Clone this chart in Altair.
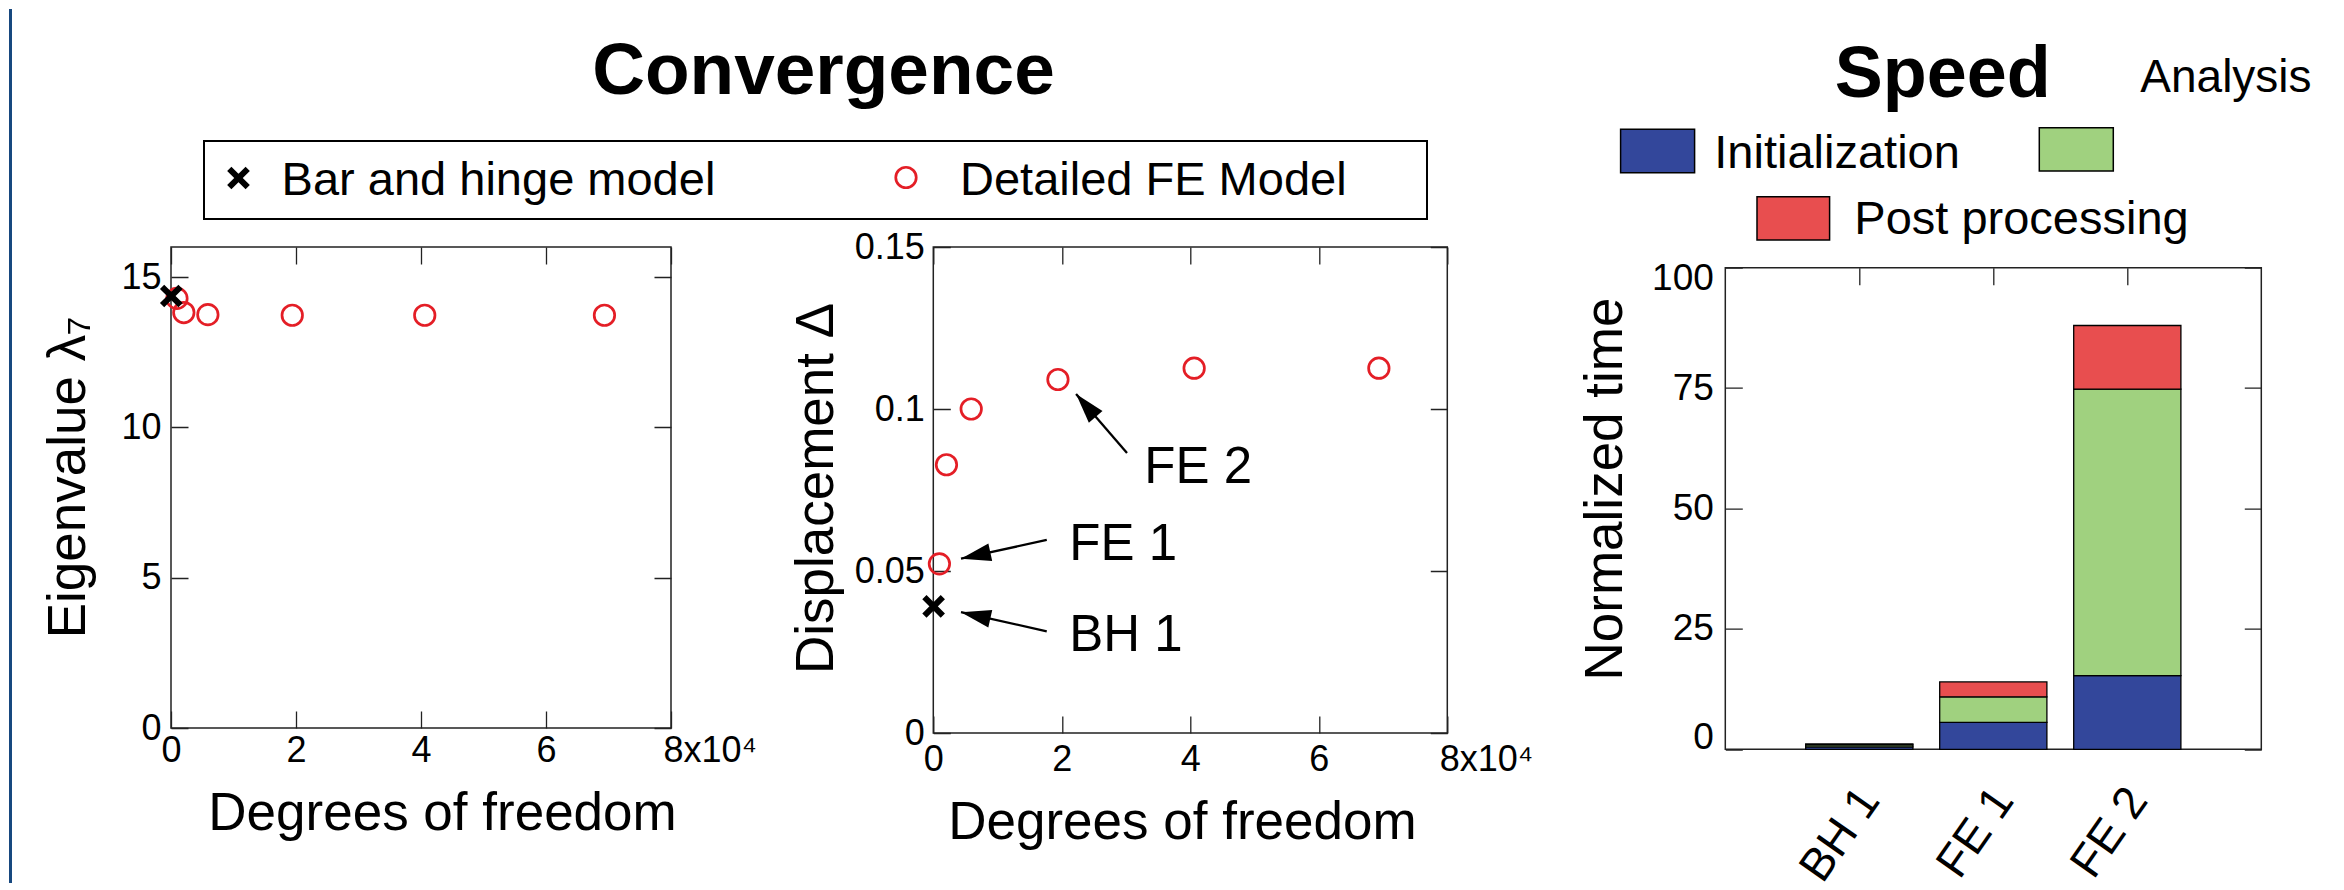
import altair as alt
import pandas as pd

# ---------------- data ----------------
dof_bh = [0.005]                                   # degrees of freedom (x10^4)
dof_fe = [0.095, 0.205, 0.59, 1.94, 4.06, 6.935]
eig_bh = [14.37]
eig_fe = [14.29, 13.82, 13.75, 13.73, 13.73, 13.73]
disp_bh = [0.0391]
disp_fe = [0.0522, 0.0828, 0.1000, 0.1091, 0.1126, 0.1126]
series_names = ["Bar and hinge model", "Detailed FE Model"]

dof_ticks = [0, 2, 4, 6, 8]
eig_ticks = [0, 5, 10, 15]
disp_ticks = [0, 0.05, 0.1, 0.15]

ann_labels = ["FE 2", "FE 1", "BH 1"]
ann_text_x = [3.284, 2.117, 2.117]
ann_text_y = [0.0772, 0.0535, 0.0252]
arrow_tail_x = [3.015, 1.766, 1.766]
arrow_tail_y = [0.0864, 0.0596, 0.0314]
arrow_tip_x = [2.222, 0.431, 0.431]
arrow_tip_y = [0.1046, 0.0538, 0.0373]

cases = ["BH 1", "FE 1", "FE 2"]
case_pos = [1, 2, 3]
components = ["Initialization", "Analysis", "Post processing"]
t_init = [0.5, 5.6, 15.3]
t_analysis = [0.4, 5.3, 59.5]
t_post = [0.2, 3.1, 13.2]
time_ticks = [0, 25, 50, 75, 100]

panel_titles = ["Convergence", "Speed"]

# ---------------- style ----------------
FONT = "Liberation Sans"
RED = "#E41E26"
FRAME = "#222222"
STRIP = "#17487F"
comp_colors = ["#33479B", "#A0D17F", "#E84E4F"]
TICK = 17
W1, H1 = 500, 481
W2, H2 = 514, 486
W3, H3 = 536, 481.6
XPATH = "M-1,-1L1,1M1,-1L-1,1"
HEAD = "M0,0L0.6,2L-0.6,2Z"
CIRCLE_SIZE = 420
X_SIZE = 340
X_STROKE = 6
LABEL_SIZE = 36
TITLE_SIZE = 53

one = pd.DataFrame({"a": [0]})


def txt(s, x, y, size, weight="normal", align="left"):
    return alt.Chart(pd.DataFrame({"t": [s]})).mark_text(
        fontSize=size, fontWeight=weight, align=align, baseline="alphabetic", color="black"
    ).encode(x=alt.value(x), y=alt.value(y), text="t:N")


def box(x0, x1, y0, y1, fill, sw=1.5):
    return alt.Chart(one).mark_rect(fill=fill, stroke="black", strokeWidth=sw).encode(
        x=alt.value(x0), x2=alt.value(x1), y=alt.value(y0), y2=alt.value(y1))


def dof_axis(h, tx, ty, pad):
    return alt.Axis(
        values=dof_ticks,
        labelExpr="datum.value == 8 ? '8x10\u2074' : datum.label",
        labelAlign={"condition": {"test": "datum.value == 8", "value": "left"}, "value": "center"},
        labelOffset={"condition": {"test": "datum.value == 8", "value": -8}, "value": 0},
        labelFontSize=LABEL_SIZE, labelBaseline="alphabetic", labelPadding=pad,
        ticks=False, tickSize=0, domain=False,
        grid=True, gridDash=[TICK, h - 2 * TICK], gridColor=FRAME, gridWidth=1.3, gridOpacity=1,
        title="Degrees of freedom", titleFontSize=TITLE_SIZE, titleFontWeight="normal", titleLimit=2000,
        titleBaseline="alphabetic", titleAlign="center", titleX=tx, titleY=ty)


def val_axis(vals, w, title, tx, ty, pad, fmt=None):
    kw = dict(values=vals, labelFontSize=LABEL_SIZE, labelPadding=pad,
              ticks=False, tickSize=0, domain=False,
              grid=True, gridDash=[TICK, w - 2 * TICK], gridColor=FRAME, gridWidth=1.3, gridOpacity=1,
              title=title, titleFontSize=TITLE_SIZE, titleFontWeight="normal", titleLimit=2000,
              titleBaseline="alphabetic", titleAlign="center", titleAngle=270,
              titleX=tx, titleY=ty)
    if fmt:
        kw["format"] = fmt
    return alt.Axis(**kw)


# ---------------- panel 1: eigenvalue ----------------
xs1 = alt.Scale(domain=[0, 8], nice=False, zero=False)
ys1 = alt.Scale(domain=[0, 16], nice=False, zero=False)
xa1 = dof_axis(H1, 271, 101, 33)
ya1 = val_axis(eig_ticks, W1, "Eigenvalue \u03bb\u2087", -87, 230, 10)

df_fe1 = pd.DataFrame({"dof": dof_fe, "val": eig_fe})
df_bh1 = pd.DataFrame({"dof": dof_bh, "val": eig_bh})

fe1 = alt.Chart(df_fe1).mark_point(shape="circle", filled=False, color=RED, strokeWidth=2.7,
                                    size=CIRCLE_SIZE, opacity=1).encode(
    x=alt.X("dof:Q", scale=xs1, axis=xa1), y=alt.Y("val:Q", scale=ys1, axis=ya1))
bh1 = alt.Chart(df_bh1).mark_point(shape=XPATH, filled=False, color="black", strokeWidth=X_STROKE,
                                    size=X_SIZE, opacity=1).encode(
    x=alt.X("dof:Q", scale=xs1, axis=xa1), y=alt.Y("val:Q", scale=ys1, axis=ya1))

strip = alt.Chart(one).mark_rect(color=STRIP).encode(
    x=alt.value(-162), x2=alt.value(-159), y=alt.value(-238), y2=alt.value(636))

leg_box = box(33, 1256, -106, -28, "white", sw=2)
leg_x = alt.Chart(one).mark_point(shape=XPATH, filled=False, color="black", strokeWidth=X_STROKE,
                                  size=X_SIZE, opacity=1).encode(x=alt.value(67.5), y=alt.value(-69))
leg_o = alt.Chart(one).mark_point(shape="circle", filled=False, color=RED, strokeWidth=2.7,
                                  size=CIRCLE_SIZE, opacity=1).encode(x=alt.value(735), y=alt.value(-69.5))

p1 = alt.layer(
    fe1, bh1, strip,
    txt(panel_titles[0], 652.5, -153, 73, weight="bold", align="center"),
    leg_box, leg_x, leg_o,
    txt(series_names[0], 110.6, -52, 47),
    txt(series_names[1], 789, -52, 47),
).properties(width=W1, height=H1, view=alt.ViewBackground(stroke=FRAME, strokeWidth=1.5))

# ---------------- panel 2: displacement ----------------
xs2 = alt.Scale(domain=[0, 8], nice=False, zero=False)
ys2 = alt.Scale(domain=[0, 0.15], nice=False, zero=False)
xa2 = dof_axis(H2, 248.6, 105, 37)
ya2 = val_axis(disp_ticks, W2, "Displacement \u0394", -100.7, 241, 9, fmt=".2~f")

df_fe2 = pd.DataFrame({"dof": dof_fe, "val": disp_fe})
df_bh2 = pd.DataFrame({"dof": dof_bh, "val": disp_bh})
df_ann = pd.DataFrame({"label": ann_labels, "tx": ann_text_x, "ty": ann_text_y,
                       "x0": arrow_tail_x, "y0": arrow_tail_y,
                       "x1": arrow_tip_x, "y1": arrow_tip_y})

fe2 = alt.Chart(df_fe2).mark_point(shape="circle", filled=False, color=RED, strokeWidth=2.7,
                                    size=CIRCLE_SIZE, opacity=1).encode(
    x=alt.X("dof:Q", scale=xs2, axis=xa2), y=alt.Y("val:Q", scale=ys2, axis=ya2))
bh2 = alt.Chart(df_bh2).mark_point(shape=XPATH, filled=False, color="black", strokeWidth=X_STROKE,
                                    size=X_SIZE, opacity=1).encode(
    x=alt.X("dof:Q", scale=xs2, axis=xa2), y=alt.Y("val:Q", scale=ys2, axis=ya2))

shafts = alt.Chart(df_ann).mark_rule(color="black", strokeWidth=2.3).encode(
    x=alt.X("x0:Q", scale=xs2, axis=xa2), y=alt.Y("y0:Q", scale=ys2, axis=ya2),
    x2="x1:Q", y2="y1:Q")
heads = alt.Chart(df_ann).transform_calculate(
    ang=f"(atan2((datum.x1 - datum.x0) * {W2 / 8}, (datum.y1 - datum.y0) * {H2 / 0.15}) * 180 / PI + 360) % 360"
).mark_point(shape=HEAD, filled=True, color="black", size=900, opacity=1, strokeWidth=0).encode(
    x=alt.X("x1:Q", scale=xs2, axis=xa2), y=alt.Y("y1:Q", scale=ys2, axis=ya2),
    angle=alt.Angle("ang:Q", scale=None))
ann = alt.Chart(df_ann).mark_text(align="left", baseline="alphabetic", fontSize=51, color="black").encode(
    x=alt.X("tx:Q", scale=xs2, axis=xa2), y=alt.Y("ty:Q", scale=ys2, axis=ya2), text="label:N")

p2 = alt.layer(fe2, bh2, shafts, heads, ann).properties(
    width=W2, height=H2, view=alt.ViewBackground(stroke=FRAME, strokeWidth=1.5))

# ---------------- panel 3: speed ----------------
rows = []
for i, c in enumerate(cases):
    for j, vals in enumerate([t_init, t_analysis, t_post]):
        rows.append({"case": c, "pos": case_pos[i], "component": components[j], "order": j, "time": vals[i]})
df_bar = pd.DataFrame(rows)

label_arr = "[" + ", ".join(["''"] + [f"'{c}'" for c in cases]) + "]"

bars = alt.Chart(df_bar).transform_stack(
    stack="time", groupby=["case"], as_=["t0", "t1"], sort=[alt.SortField(field="order", order="ascending")]
).transform_calculate(xl="datum.pos - 0.4", xr="datum.pos + 0.4").mark_rect(
    stroke="black", strokeWidth=1.3).encode(
    x=alt.X("xl:Q", scale=alt.Scale(domain=[0, 4], nice=False, zero=False), axis=alt.Axis(
        values=case_pos, labelExpr=f"{label_arr}[datum.value]",
        labelAngle=305, labelAlign="right", labelBaseline="middle",
        labelFontSize=46, labelPadding=43, labelOffset=10,
        ticks=False, tickSize=0, domain=False,
        grid=True, gridDash=[TICK, H3], gridColor=FRAME, gridWidth=1.3, gridOpacity=1,
        title="")),
    x2="xr:Q",
    y=alt.Y("t0:Q", scale=alt.Scale(domain=[0, 100], nice=False, zero=False), axis=alt.Axis(
        values=time_ticks, labelFontSize=37, labelPadding=12, labelFlush=True, labelFlushOffset=7,
        ticks=False, tickSize=0, domain=False,
        grid=True, gridDash=[TICK, W3 - 2 * TICK], gridColor=FRAME, gridWidth=1.3, gridOpacity=1,
        title="Normalized time", titleFontSize=TITLE_SIZE, titleFontWeight="normal", titleLimit=2000,
        titleBaseline="alphabetic", titleAlign="center", titleAngle=270, titleX=-104, titleY=220.8)),
    y2="t1:Q",
    color=alt.Color("component:N", scale=alt.Scale(domain=components, range=comp_colors), legend=None))

p3 = alt.layer(
    bars,
    txt(panel_titles[1], 217.5, -170.5, 72, weight="bold", align="center"),
    box(-104.7, -30.7, -138.4, -95, comp_colors[0]),
    txt(components[0], -11, -100, 47),
    box(314, 388, -140, -96.7, comp_colors[1]),
    txt(components[1], 415, -176, 46),
    box(31.7, 104.3, -71, -27.7, comp_colors[2]),
    txt(components[2], 129, -33.4, 47),
).properties(width=W3, height=H3, view=alt.ViewBackground(stroke=FRAME, strokeWidth=1.5))

# ---------------- layout ----------------
def spacer():
    return alt.Chart(one).mark_point(opacity=0).encode(x=alt.value(0), y=alt.value(0)).properties(
        width=1, height=1, view=alt.ViewBackground(stroke="transparent"))

right_block = alt.vconcat(
    spacer(),
    alt.hconcat(spacer(), p3, spacing=14.7, bounds="flush"),
    spacing=19.7, bounds="flush")

chart = alt.hconcat(p1, p2, right_block, spacing=262.3, bounds="flush", padding=0).configure(
    font=FONT
).configure_axis(
    labelFont=FONT, titleFont=FONT, labelColor="black", titleColor="black"
).configure_text(font=FONT)

chart.save("out.html", embed_options={"renderer": "svg", "actions": False})
